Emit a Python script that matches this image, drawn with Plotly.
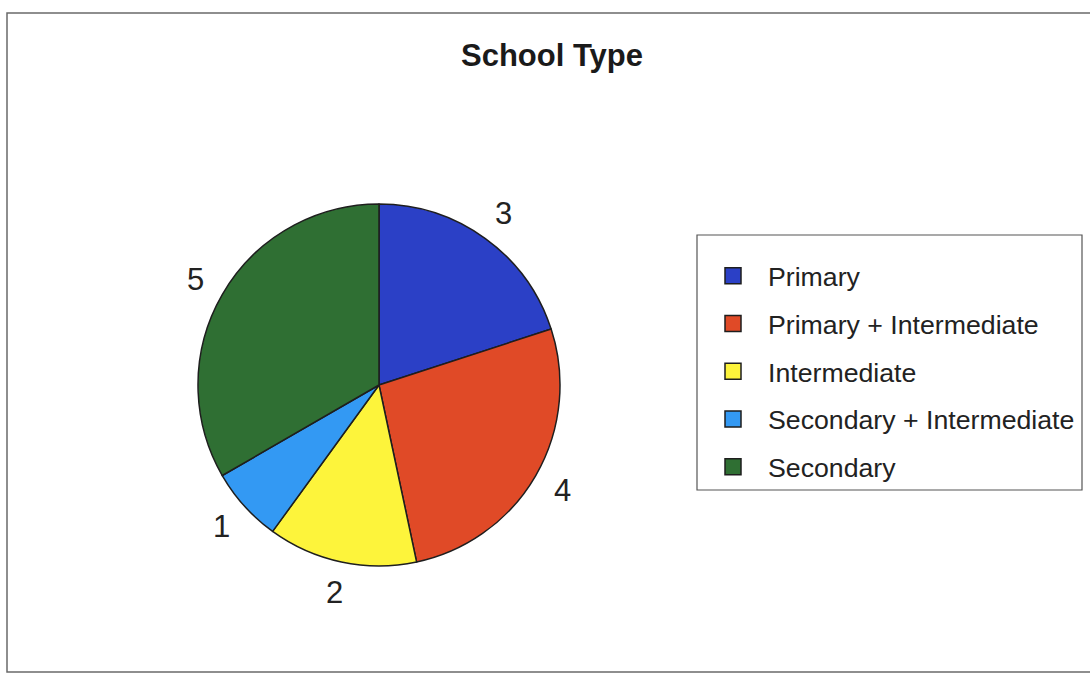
import math
import plotly.graph_objects as go

# ---- data ----
categories = ["Primary", "Primary + Intermediate", "Intermediate",
              "Secondary + Intermediate", "Secondary"]
values = [3, 4, 2, 1, 5]
colors = ["#2b40c6", "#e04a27", "#fdf43b", "#3399f3", "#2f6f33"]
title_text = "School Type"

W, H = 1090, 675
FONT = "Liberation Sans, Arial, sans-serif"
EDGE = "#1e1e1e"

def px(x):
    return x / W

def py(y):
    return 1 - y / H

# pie geometry (pixels)
cx, cy, r = 379, 385, 181
label_r = 212

fig = go.Figure()
fig.add_trace(go.Pie(
    labels=categories, values=values, sort=False, direction="clockwise",
    rotation=0, textinfo="none", hoverinfo="label+value",
    marker=dict(colors=colors, line=dict(color=EDGE, width=1.5)),
    domain=dict(x=[px(cx - r), px(cx + r)], y=[py(cy + r), py(cy - r)]),
    showlegend=False,
))

# legend entries (one per category)
for i, (cat, col) in enumerate(zip(categories, colors)):
    fig.add_trace(go.Scatter(
        x=[None], y=[None], mode="markers", name=cat, legendgroup=cat,
        marker=dict(symbol="square", size=20, color=col,
                    line=dict(color=EDGE, width=1.5)),
        showlegend=True, hoverinfo="skip",
    ))

# value labels outside the slices
total = sum(values)
cum = 0
annotations = []
for v in values:
    mid = (cum + v / 2) / total * 2 * math.pi
    cum += v
    lx = cx + label_r * math.sin(mid)
    ly = cy - label_r * math.cos(mid)
    annotations.append(dict(
        x=px(lx), y=py(ly), xref="paper", yref="paper", text=str(v),
        showarrow=False, xanchor="center", yanchor="middle",
        font=dict(family=FONT, size=31, color="#222222"),
    ))

shapes = [
    # outer frame
    dict(type="rect", xref="paper", yref="paper",
         x0=px(7), x1=px(1100), y0=py(672), y1=py(13),
         line=dict(color="#6a6a6a", width=1.5), fillcolor="rgba(0,0,0,0)"),
    # legend box
    dict(type="rect", xref="paper", yref="paper",
         x0=px(697), x1=px(1082), y0=py(490), y1=py(235),
         line=dict(color="#555555", width=1.2), fillcolor="rgba(0,0,0,0)"),
]

fig.update_layout(
    width=W, height=H,
    margin=dict(l=0, r=0, t=0, b=0),
    paper_bgcolor="white", plot_bgcolor="white",
    title=dict(text="<b>" + title_text + "</b>", x=px(552), y=py(55),
               xanchor="center", yanchor="middle",
               font=dict(family=FONT, size=31, color="#1a1a1a")),
    xaxis=dict(visible=False), yaxis=dict(visible=False),
    legend=dict(x=px(698), y=py(252), xanchor="left", yanchor="top",
                font=dict(family=FONT, size=26.7, color="#222222"),
                itemwidth=60, tracegroupgap=10, traceorder="grouped",
                bgcolor="rgba(0,0,0,0)", borderwidth=0),
    annotations=annotations,
    shapes=shapes,
)

fig.write_html(
    "out.html",
    config={"displayModeBar": False},
    post_script="document.body.style.margin='0';document.body.style.padding='0';"
                "document.body.style.overflow='hidden';",
)
